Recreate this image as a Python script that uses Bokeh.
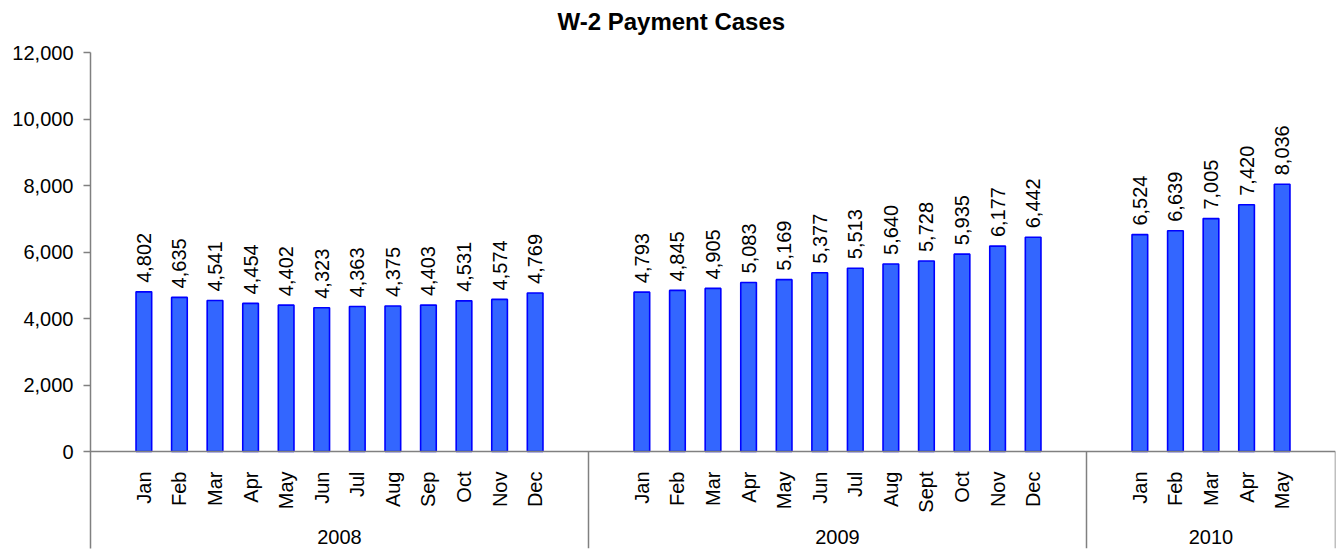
import math
from bokeh.plotting import figure
from bokeh.models import (FactorRange, Range1d, ColumnDataSource, FixedTicker,
                          NumeralTickFormatter, Label)
from bokeh.transform import dodge
from bokeh.core.properties import value
from bokeh.embed import file_html
from bokeh.resources import INLINE

title_text = "W-2 Payment Cases"
years = ["2008", "2009", "2010"]
months_2008 = ["Jan", "Feb", "Mar", "Apr", "May", "Jun", "Jul", "Aug", "Sep", "Oct", "Nov", "Dec"]
months_2009 = ["Jan", "Feb", "Mar", "Apr", "May", "Jun", "Jul", "Aug", "Sept", "Oct", "Nov", "Dec"]
months_2010 = ["Jan", "Feb", "Mar", "Apr", "May"]
cases_2008 = [4802, 4635, 4541, 4454, 4402, 4323, 4363, 4375, 4403, 4531, 4574, 4769]
cases_2009 = [4793, 4845, 4905, 5083, 5169, 5377, 5513, 5640, 5728, 5935, 6177, 6442]
cases_2010 = [6524, 6639, 7005, 7420, 8036]
y_ticks = [0, 2000, 4000, 6000, 8000, 10000, 12000]

FONT = "Liberation Sans"
GREY = "#808080"

factors = ([(years[0], m) for m in months_2008] +
           [(years[1], m) for m in months_2009] +
           [(years[2], m) for m in months_2010])
vals = cases_2008 + cases_2009 + cases_2010
src = ColumnDataSource(dict(x=factors, top=vals, label=[f"{v:,}" for v in vals]))

x_range = FactorRange(*factors, group_padding=2, factor_padding=0,
                      range_padding=1, range_padding_units="absolute")
# frame spans the whole canvas height: 0 at y=451px, 12,000 at y=52px
px_per_unit = (451 - 52) / 12000
y_top = 12000 + 52 / px_per_unit
y_bottom = -(548 - 451) / px_per_unit
y_range = Range1d(y_bottom, y_top)

p = figure(x_range=x_range, y_range=y_range, width=1338, height=550,
           output_backend="svg", toolbar_location=None, title=None,
           min_border_left=90, min_border_right=3, min_border_top=0,
           min_border_bottom=2)

p.xgrid.visible = False
p.ygrid.visible = False
p.outline_line_color = None
p.background_fill_color = "white"

p.vbar(x="x", top="top", width=0.44, source=src, fill_color="#3366FF",
       line_color="#0000FF", line_width=1.6)
p.text(x="x", y="top", text="label", source=src, angle=math.pi / 2,
       text_align="left", text_baseline="middle", y_offset=-9,
       text_font=value(FONT), text_font_size="20px", text_color="black")

# group separators
sep = ColumnDataSource(dict(sx=[factors[11], factors[23], factors[-1]]))
p.segment(x0=dodge("sx", 1.5, range=x_range), y0=0,
          x1=dodge("sx", 1.5, range=x_range), y1=y_bottom,
          source=sep, line_color=GREY, line_width=1.5)

xa = p.xaxis[0]
xa.fixed_location = 0
xa.axis_line_color = GREY
xa.axis_line_width = 1.5
xa.major_tick_line_color = None
xa.minor_tick_line_color = None
xa.major_label_orientation = math.pi / 2
xa.major_label_standoff = 14
xa.major_label_text_font = FONT
xa.major_label_text_font_size = "20px"
xa.major_label_text_color = "black"
xa.group_text_font = FONT
xa.group_text_font_size = "20px"
xa.group_text_font_style = "normal"
xa.group_text_color = "black"
xa.separator_line_color = None

ya = p.yaxis[0]
ya.bounds = (y_bottom, y_ticks[-1])
ya.ticker = FixedTicker(ticks=y_ticks)
ya.formatter = NumeralTickFormatter(format="0,0")
ya.axis_line_color = GREY
ya.axis_line_width = 1.5
ya.major_tick_line_color = GREY
ya.major_tick_line_width = 1.5
ya.major_tick_out = 7
ya.major_tick_in = 0
ya.minor_tick_line_color = None
ya.major_label_standoff = 10
ya.major_label_text_font = FONT
ya.major_label_text_font_size = "20px"
ya.major_label_text_color = "black"

# chart title (centred on the whole chart, near the top edge)
title_x = (670.8 - 90) / ((1335 - 90) / 35) - 1
title_y = 12000 + (52 - 21) / px_per_unit
p.add_layout(Label(x=title_x, y=title_y, text=title_text, text_align="center",
                   text_baseline="alphabetic", text_font=FONT,
                   text_font_size="24px", text_font_style="bold",
                   text_color="black"))

open("out.html", "w").write(file_html(p, INLINE))
